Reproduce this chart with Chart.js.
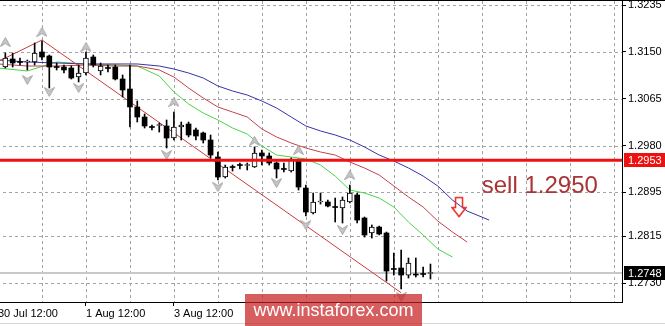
<!DOCTYPE html>
<html>
<head>
<meta charset="utf-8">
<script src="https://cdn.jsdelivr.net/npm/chart.js@4.4.0/dist/chart.umd.min.js"></script>
<style>
  html, body { margin: 0; padding: 0; background: #fff; }
  #wrap { position: relative; width: 665px; height: 326px; overflow: hidden; background: #fff; }
  #topline { position: absolute; left: 0; top: 0; width: 665px; height: 1px; background: #000; }
  #baseline { position: absolute; left: 0; top: 323px; width: 665px; height: 1px; background: #d6d6d6; }
  #chart { position: absolute; left: -3px; top: 1px; }
  #mark {
    position: absolute; left: 245px; top: 294px; width: 177px; height: 32px;
    background: rgba(200, 32, 32, 0.72); color: #fff;
    font: 18px "Liberation Sans", Arial, sans-serif; line-height: 32px; text-align: center;
  }
</style>
</head>
<body>
<div id="wrap">
  <canvas id="chart" width="668" height="325"></canvas>
  <div id="topline"></div>
  <div id="baseline"></div>
  <div id="mark">www.instaforex.com</div>
</div>
<script>
// H4 candles, bar 0 = 30 Jul 12:00
const firstBar = 1;
const open = [
  1.31227, 1.31373, 1.31318, 1.31318, 1.31318, 1.31500, 1.31427, 1.31227, 1.31227, 1.31209,
  1.31045, 1.31118, 1.31409, 1.31155, 1.31209, 1.31227, 1.31009, 1.30827, 1.30500, 1.30318,
  1.30136, 1.30164, 1.30155, 1.29936, 1.30136, 1.30191, 1.30082, 1.30027, 1.29900, 1.29591,
  1.29227, 1.29409, 1.29445, 1.29436, 1.29409, 1.29664, 1.29609, 1.29482, 1.29373, 1.29336,
  1.29518, 1.29027, 1.28573, 1.28773, 1.28773, 1.28682, 1.28664, 1.28773, 1.28900, 1.28482,
  1.28209, 1.28318, 1.28209, 1.27555, 1.27573, 1.27445, 1.27455, 1.27464, 1.27473
];
const high = [
  1.31482, 1.31482, 1.31391, 1.31355, 1.31664, 1.31700, 1.31445, 1.31300, 1.31264, 1.31245,
  1.31264, 1.31500, 1.31445, 1.31300, 1.31264, 1.31264, 1.31082, 1.31264, 1.30609, 1.30373,
  1.30173, 1.30209, 1.30264, 1.30409, 1.30227, 1.30227, 1.30118, 1.30045, 1.29991, 1.29682,
  1.29445, 1.29445, 1.29482, 1.29482, 1.29773, 1.29718, 1.29664, 1.29500, 1.29482, 1.29573,
  1.29555, 1.29082, 1.28936, 1.28936, 1.28809, 1.28845, 1.28864, 1.29082, 1.28936, 1.28500,
  1.28355, 1.28336, 1.28227, 1.27845, 1.27900, 1.27755, 1.27755, 1.27591, 1.27645
];
const low = [
  1.31209, 1.31227, 1.31264, 1.31173, 1.31264, 1.31355, 1.30845, 1.31173, 1.31118, 1.31009,
  1.30955, 1.31082, 1.31227, 1.31082, 1.31136, 1.30991, 1.30682, 1.30136, 1.30227, 1.30118,
  1.30082, 1.30045, 1.29755, 1.29900, 1.29900, 1.29955, 1.29900, 1.29845, 1.29573, 1.29173,
  1.29209, 1.29336, 1.29373, 1.29355, 1.29400, 1.29445, 1.29445, 1.29209, 1.29318, 1.29318,
  1.28991, 1.28518, 1.28555, 1.28736, 1.28682, 1.28409, 1.28391, 1.28755, 1.28391, 1.28136,
  1.28118, 1.28173, 1.27336, 1.27445, 1.27191, 1.27391, 1.27409, 1.27409, 1.27373
];
const close = [
  1.31391, 1.31300, 1.31309, 1.31327, 1.31482, 1.31409, 1.31227, 1.31218, 1.31173, 1.31027,
  1.31118, 1.31391, 1.31264, 1.31245, 1.31200, 1.31009, 1.30809, 1.30500, 1.30318, 1.30155,
  1.30127, 1.30182, 1.29936, 1.30136, 1.30173, 1.29991, 1.29973, 1.29900, 1.29627, 1.29227,
  1.29409, 1.29400, 1.29436, 1.29445, 1.29664, 1.29609, 1.29482, 1.29373, 1.29364, 1.29536,
  1.29045, 1.28591, 1.28773, 1.28782, 1.28700, 1.28673, 1.28809, 1.28936, 1.28445, 1.28173,
  1.28318, 1.28191, 1.27518, 1.27546, 1.27445, 1.27664, 1.27445, 1.27455, 1.27480
];

// Alligator lines (read at sample bars)
const jawBars   = [0, 4, 8, 12, 16, 19, 22, 24, 26, 28, 30, 32, 34, 36, 38, 40, 42, 44, 46, 48, 50, 52, 54, 56, 58, 60, 62, 64, 67];
const jaw = [1.31355, 1.31318, 1.31300, 1.31282, 1.31282, 1.31282, 1.31245, 1.31191, 1.31118, 1.31027,
  1.30882, 1.30791, 1.30718, 1.30609, 1.30482, 1.30318, 1.30155, 1.30064, 1.29991, 1.29900,
  1.29773, 1.29627, 1.29518, 1.29391, 1.29245, 1.29064, 1.28809, 1.28609, 1.28445];
const teethBars = [0, 4, 8, 12, 16, 19, 22, 24, 26, 28, 30, 32, 34, 36, 38, 40, 42, 44, 46, 48, 50, 52, 54, 56, 58, 60, 62, 64];
const teeth = [1.31282, 1.31245, 1.31245, 1.31264, 1.31245, 1.31245, 1.31173, 1.31045, 1.30845, 1.30664,
  1.30500, 1.30409, 1.30318, 1.30100, 1.29955, 1.29845, 1.29755, 1.29682, 1.29627, 1.29500,
  1.29391, 1.29264, 1.29064, 1.28864, 1.28682, 1.28427, 1.28227, 1.28045];
const lipsBars  = [0, 4, 8, 12, 16, 19, 22, 24, 26, 28, 30, 32, 34, 36, 38, 40, 42, 44, 46, 48, 50, 52, 54, 56, 58, 60, 62];
const lips = [1.31209, 1.31155, 1.31318, 1.31282, 1.31264, 1.31245, 1.31064, 1.30773, 1.30555, 1.30391,
  1.30264, 1.30118, 1.30009, 1.29791, 1.29627, 1.29591, 1.29555, 1.29445, 1.29245, 1.28991,
  1.28936, 1.28845, 1.28682, 1.28409, 1.28173, 1.27918, 1.27773];

// fractal marks
const fractalUpBars = [1, 6, 12, 24, 35, 41, 48];
const fractalUpPrices = [1.31682, 1.31864, 1.31591, 1.30591, 1.29882, 1.29718, 1.29264];
const fractalDownBars = [4, 7, 11, 23, 30, 38, 42, 47, 55];
const fractalDownPrices = [1.30991, 1.30773, 1.30845, 1.29627, 1.29045, 1.29118, 1.28355, 1.28264, 1.27050];

// trend line
const channelBars = [0, 6, 55];
const channelPrices = [1.31325, 1.31718, 1.27123];

// levels and notes
const sellLevel = 1.2953;
const bidLevel = 1.2748;
const noteText = 'sell 1.2950';
const noteBar = 66.0;
const notePrice = 1.2894;
const sellArrowBar = 62.9;
const sellArrowPrice = 1.2868;

// axes
const priceTicks = [1.3235, 1.3150, 1.3065, 1.2980, 1.2895, 1.2815, 1.2730];
const gridBars = [0, 6, 12, 18, 24, 30, 36, 42, 48, 54, 60, 66, 72, 78, 84];
const timeLabelBars = [0, 12, 24];
const timeLabels = ['30 Jul 12:00', '1 Aug 12:00', '3 Aug 12:00'];
const xMin = -0.136, xMax = 85.13;
const yMin = 1.26955, yMax = 1.32427;

Chart.defaults.font.family = '"Liberation Sans", Arial, sans-serif';
Chart.defaults.font.size = 11;

function fractalIcon(up) {
  const c = document.createElement('canvas');
  c.width = 11; c.height = 10;
  const g = c.getContext('2d');
  g.beginPath();
  if (up) { g.moveTo(5.5, 0.5); g.lineTo(10.5, 9.5); g.lineTo(5.5, 6.5); g.lineTo(0.5, 9.5); }
  else { g.moveTo(5.5, 9.5); g.lineTo(10.5, 0.5); g.lineTo(5.5, 3.5); g.lineTo(0.5, 0.5); }
  g.closePath();
  g.fillStyle = '#c6c6c6'; g.fill();
  g.strokeStyle = '#a6a6a6'; g.lineWidth = 1; g.stroke();
  return c;
}

function sellIcon() {
  const c = document.createElement('canvas');
  c.width = 16; c.height = 22;
  const g = c.getContext('2d');
  g.beginPath();
  g.moveTo(4.5, 1.5); g.lineTo(11.5, 1.5); g.lineTo(11.5, 11.5); g.lineTo(15, 11.5);
  g.lineTo(8, 20.5); g.lineTo(1, 11.5); g.lineTo(4.5, 11.5);
  g.closePath();
  g.strokeStyle = '#e52b2b'; g.lineWidth = 1.5; g.stroke();
  return c;
}

const bars = open.map((o, i) => firstBar + i);
const wickData = bars.map((b, i) => ({x: b, y: [low[i], high[i]]}));
const bullData = [], bearData = [];
bars.forEach((b, i) => {
  const item = {x: b, y: [open[i], close[i]]};
  if (close[i] > open[i]) bullData.push(item); else bearData.push(item);
});

const toPoints = (xs, ys) => xs.map((x, i) => ({x: x, y: ys[i]}));

// dashed grid, drawn at the scales' own tick positions
const gridPlugin = {
  id: 'dashGrid',
  beforeDatasetsDraw(chart) {
    const {ctx, chartArea: a, scales: {x, y}} = chart;
    ctx.save();
    ctx.strokeStyle = '#a4a4a4';
    ctx.lineWidth = 1;
    ctx.setLineDash([3, 3]);
    ctx.beginPath();
    x.ticks.forEach(t => {
      const px = Math.round(x.getPixelForValue(t.value)) + 0.5;
      if (px > a.left && px < a.right) { ctx.moveTo(px, a.top); ctx.lineTo(px, a.bottom); }
    });
    y.ticks.forEach(t => {
      const py = Math.round(y.getPixelForValue(t.value)) + 0.5;
      ctx.moveTo(a.left, py); ctx.lineTo(a.right, py);
    });
    ctx.stroke();
    ctx.restore();
  }
};

const overlayPlugin = {
  id: 'overlay',
  afterDraw(chart) {
    const {ctx, chartArea, scales: {x, y}} = chart;
    ctx.save();
    ctx.font = '24px "Liberation Sans", Arial, sans-serif';
    ctx.fillStyle = '#a83434';
    ctx.textBaseline = 'alphabetic';
    ctx.textAlign = 'left';
    ctx.fillText(noteText, x.getPixelForValue(noteBar), y.getPixelForValue(notePrice));

    [[sellLevel, '#ee1111'], [bidLevel, '#000000']].forEach(([v, col]) => {
      const py = Math.round(y.getPixelForValue(v));
      ctx.fillStyle = col;
      ctx.fillRect(chartArea.right + 2, py - 7, chart.width - chartArea.right - 2, 14);
      ctx.fillStyle = '#fff';
      ctx.font = '11px "Liberation Sans", Arial, sans-serif';
      ctx.textBaseline = 'middle';
      ctx.fillText(v.toFixed(4), chartArea.right + 6, py + 0.5);
    });
    ctx.restore();
  }
};

new Chart(document.getElementById('chart'), {
  type: 'bar',
  data: {
    datasets: [
      { type: 'line', data: [{x: xMin, y: bidLevel}, {x: xMax, y: bidLevel}], borderColor: '#c8c8c8', borderWidth: 2, pointRadius: 0, order: 10 },
      { type: 'line', data: toPoints(jawBars, jaw), borderColor: '#3434a4', borderWidth: 1, pointRadius: 0, order: 8 },
      { type: 'line', data: toPoints(teethBars, teeth), borderColor: '#c2404a', borderWidth: 1, pointRadius: 0, order: 8 },
      { type: 'line', data: toPoints(lipsBars, lips), borderColor: '#48d448', borderWidth: 1, pointRadius: 0, order: 8 },
      { type: 'line', data: toPoints(channelBars, channelPrices), borderColor: '#c83c3c', borderWidth: 1, pointRadius: 0, order: 7 },
      { data: wickData, backgroundColor: '#000', barThickness: 1, grouped: false, order: 6 },
      { data: bearData, backgroundColor: '#000', borderColor: '#000', borderWidth: 0, barThickness: 5, minBarLength: 1, grouped: false, borderSkipped: false, order: 5 },
      { data: bullData, backgroundColor: '#fff', borderColor: '#000', borderWidth: 1, barThickness: 5, minBarLength: 1, grouped: false, borderSkipped: false, order: 5 },
      { type: 'scatter', data: toPoints(fractalUpBars, fractalUpPrices), pointStyle: fractalIcon(true), pointRadius: 5, order: 4 },
      { type: 'scatter', data: toPoints(fractalDownBars, fractalDownPrices), pointStyle: fractalIcon(false), pointRadius: 5, order: 4 },
      { type: 'line', data: [{x: xMin, y: sellLevel}, {x: xMax, y: sellLevel}], borderColor: '#ee1111', borderWidth: 3, pointRadius: 0, order: 2 },
      { type: 'scatter', data: [{x: sellArrowBar, y: sellArrowPrice}], pointStyle: sellIcon(), pointRadius: 8, order: 1 }
    ]
  },
  options: {
    responsive: false,
    devicePixelRatio: 1,
    animation: false,
    events: [],
    layout: { padding: 0, autoPadding: false },
    plugins: { legend: { display: false }, tooltip: { enabled: false } },
    scales: {
      x: {
        type: 'linear', min: xMin, max: xMax, offset: false,
        afterBuildTicks: s => { s.ticks = gridBars.map(v => ({value: v})); },
        afterFit: s => { s.height = 24; s.paddingLeft = 0; s.paddingRight = 0; },
        ticks: {
          autoSkip: false, maxRotation: 0, align: 'start', padding: 1, color: '#000',
          callback: v => { const i = timeLabelBars.indexOf(v); return i >= 0 ? timeLabels[i] : ''; }
        },
        grid: {
          drawOnChartArea: false, offset: false, tickLength: 4,
          tickColor: c => (c.tick && timeLabelBars.includes(c.tick.value)) ? '#000' : 'rgba(0,0,0,0)'
        },
        border: { color: '#000' }
      },
      y: {
        position: 'right', min: yMin, max: yMax,
        afterBuildTicks: s => { s.ticks = priceTicks.map(v => ({value: v})); },
        afterFit: s => { s.width = 43; s.paddingTop = 0; s.paddingBottom = 0; },
        ticks: { padding: 2, color: '#000', callback: v => v.toFixed(4) },
        grid: { drawOnChartArea: false, tickLength: 4, tickColor: '#000' },
        border: { color: '#000' }
      }
    }
  },
  plugins: [gridPlugin, overlayPlugin]
});
</script>
</body>
</html>
